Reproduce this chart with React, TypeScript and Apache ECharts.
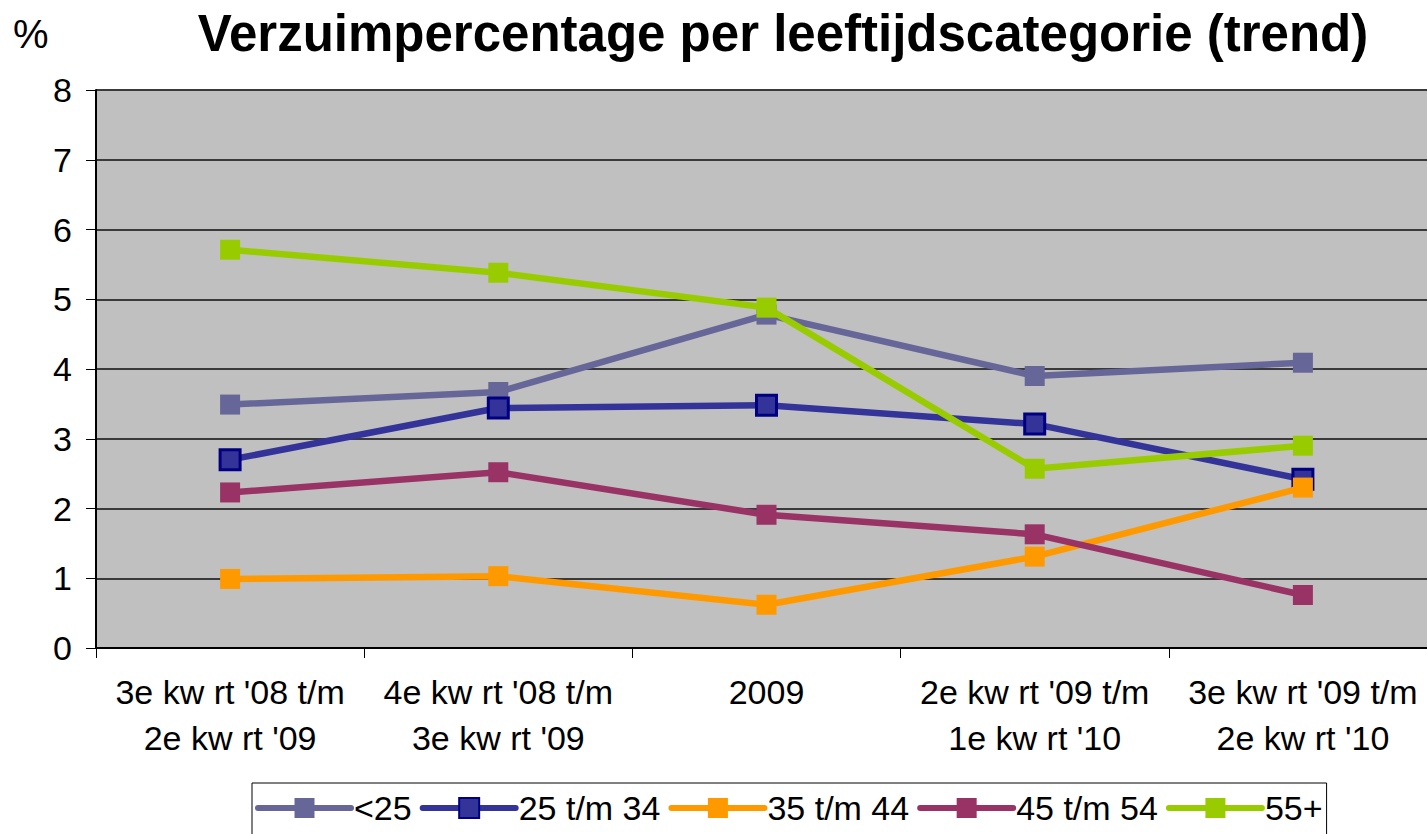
import React, { useEffect, useRef } from "react";
import * as echarts from "echarts";

const categories = [
  "3e kw rt '08 t/m\n2e kw rt '09",
  "4e kw rt '08 t/m\n3e kw rt '09",
  "2009",
  "2e kw rt '09 t/m\n1e kw rt '10",
  "3e kw rt '09 t/m\n2e kw rt '10",
];

const seriesNames = ["<25", "25 t/m 34", "35 t/m 44", "45 t/m 54", "55+"];
const under25 = [3.49, 3.67, 4.78, 3.9, 4.09];
const age25to34 = [2.7, 3.44, 3.48, 3.21, 2.42];
const age35to44 = [0.99, 1.03, 0.62, 1.31, 2.3];
const age45to54 = [2.23, 2.52, 1.91, 1.63, 0.76];
const age55plus = [5.71, 5.38, 4.88, 2.57, 2.9];
const seriesValues = [under25, age25to34, age35to44, age45to54, age55plus];
const colors = ["#666699", "#333399", "#FF9900", "#993366", "#99CC00"];
const borderColors = ["#666699", "#000080", "#FF9900", "#993366", "#99CC00"];
const yTicks = { min: 0, max: 8, interval: 1 };

const FONT = "Arial, 'Liberation Sans', sans-serif";

export default function App() {
  const ref = useRef<HTMLDivElement>(null);
  useEffect(() => {
    if (!ref.current) return;
    const chart = echarts.init(ref.current, null, { renderer: "svg" });
    chart.setOption({
      animation: false,
      backgroundColor: "#ffffff",
      textStyle: { fontFamily: FONT, color: "#000" },
      title: {
        text: "Verzuimpercentage per leeftijdscategorie (trend)",
        left: 783,
        top: 8,
        padding: 0,
        textAlign: "center",
        textStyle: { fontFamily: FONT, fontSize: 51, fontWeight: "bold", color: "#000" },
      },
      graphic: [
        {
          type: "text",
          left: 13,
          top: 14,
          style: { text: "%", font: `40px ${FONT}`, fill: "#000" },
        },
      ],
      grid: {
        left: 96,
        top: 90,
        bottom: 186,
        right: 0,
        show: true,
        backgroundColor: "#C0C0C0",
        borderWidth: 0,
        containLabel: false,
      },
      legend: {
        data: seriesNames,
        left: 252,
        top: 783,
        orient: "horizontal",
        borderColor: "#000",
        borderWidth: 1,
        padding: [8, 4, 30, 3],
        itemWidth: 93,
        itemHeight: 25,
        itemGap: 8,
        lineStyle: { width: 6, cap: "round" },
        textStyle: { fontFamily: FONT, fontSize: 34, color: "#000", padding: [0, 0, 0, -2] },
      },
      xAxis: {
        type: "category",
        data: categories,
        boundaryGap: true,
        axisLine: { show: true, lineStyle: { color: "#000", width: 2 } },
        axisTick: { show: true, length: 10, lineStyle: { color: "#000", width: 1 }, alignWithLabel: false },
        axisLabel: {
          interval: 0,
          margin: 21,
          fontSize: 34,
          lineHeight: 46,
          fontFamily: FONT,
          color: "#000",
        },
        splitLine: { show: false },
      },
      yAxis: {
        type: "value",
        min: yTicks.min,
        max: yTicks.max,
        interval: yTicks.interval,
        axisLine: { show: true, lineStyle: { color: "#000", width: 2 } },
        axisTick: { show: true, length: 10, lineStyle: { color: "#000", width: 1 } },
        axisLabel: { margin: 24, fontSize: 34, fontFamily: FONT, color: "#000" },
        splitLine: { show: true, lineStyle: { color: "#3a3a3a", width: 2 } },
      },
      series: seriesNames.map((name, i) => ({
        name,
        type: "line",
        data: seriesValues[i],
        symbol: "rect",
        symbolSize: 20,
        showSymbol: true,
        lineStyle: { color: colors[i], width: 6.5, cap: "round", join: "round" },
        itemStyle: {
          color: colors[i],
          borderColor: borderColors[i],
          borderWidth: i === 1 ? 3 : 0,
        },
        emphasis: { disabled: true },
        z: 2 + i,
      })),
    });
    return () => chart.dispose();
  }, []);
  return (
    <div style={{ position: "fixed", left: 0, top: 0, width: 1427, height: 834, overflow: "hidden" }}>
      <div ref={ref} style={{ width: 1437, height: 834 }} />
    </div>
  );
}
